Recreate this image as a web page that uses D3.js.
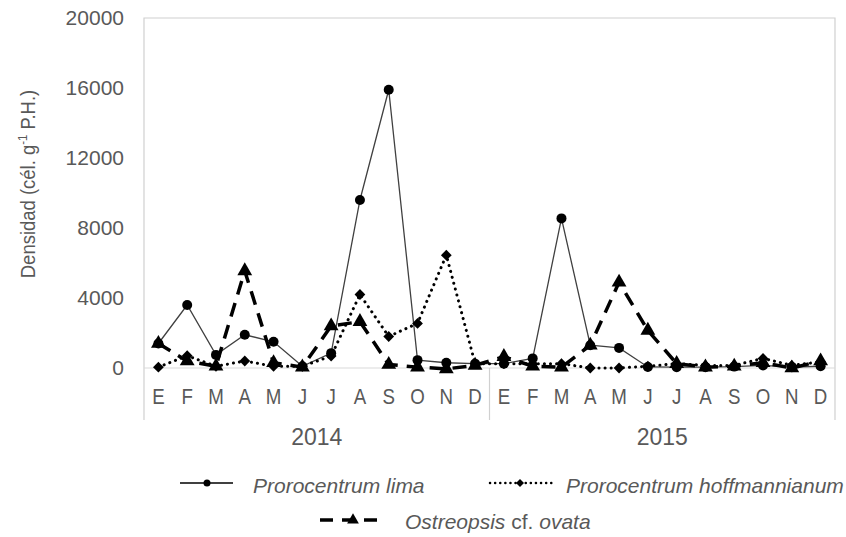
<!DOCTYPE html>
<html lang="es">
<head>
<meta charset="UTF-8">
<title>Densidad</title>
<script src="https://d3js.org/d3.v7.min.js"></script>
<style>
    body { margin: 0; background: #fff; }
    svg text { font-family: "Liberation Sans", Arial, sans-serif; fill: #595959; }
</style>
</head>
<body>
<svg id="svg"></svg>
<script>
    // data
    const years = ['2014', '2015'];
    const months = ['E','F','M','A','M','J','J','A','S','O','N','D'];
    const yTicks = [0, 4000, 8000, 12000, 16000, 20000];
    const lima = [1400, 3600, 750, 1900, 1500, 100, 850, 9600, 15900, 450, 300, 250,
                  250, 550, 8550, 1300, 1150, 60, 50, 50, 80, 150, 50, 100];
    const hoffmannianum = [50, 700, 100, 400, 100, 100, 680, 4200, 1800, 2550, 6450, 250,
                           250, 250, 250, 0, 0, 100, 250, 150, 150, 550, 150, 350];
    const ovata = [1400, 400, 100, 5550, 300, 50, 2400, 2650, 200, 50, -50, 150,
                   650, 100, 50, 1300, 4900, 2150, 250, 50, 100, 300, 0, 400];

    const width = 846, height = 537;
    const plotL = 144, plotR = 835, plotT = 18, plotB = 368;

    const svg = d3.select('#svg').attr('width', width).attr('height', height);

    const cats = [];
    years.forEach(y => months.forEach((m, i) => cats.push(y + '-' + i)));

    const x = d3.scaleBand().domain(cats).range([plotL, plotR]);
    const y = d3.scaleLinear().domain([0, 20000]).range([plotB, plotT]);
    const cx = (i) => x(cats[i]) + x.bandwidth() / 2;

    // frame
    svg.append('path')
        .attr('d', `M${plotL},${plotB + 52}V${plotT}H${plotR}V${plotB + 52}`)
        .attr('fill', 'none').attr('stroke', '#d0d0d0').attr('stroke-width', 1.2);
    svg.append('line')
        .attr('x1', plotL).attr('x2', plotR).attr('y1', y(0)).attr('y2', y(0))
        .attr('stroke', '#d9d9d9').attr('stroke-width', 1.2);
    svg.append('line')
        .attr('x1', x(cats[12])).attr('x2', x(cats[12])).attr('y1', y(0)).attr('y2', plotB + 52)
        .attr('stroke', '#d0d0d0').attr('stroke-width', 1.2);

    // y axis
    const yAxis = d3.axisLeft(y).tickValues(yTicks).tickSize(0).tickPadding(20)
        .tickFormat(d3.format('d'));
    svg.append('g').attr('transform', `translate(${plotL},0)`).call(yAxis)
        .call(g => g.select('.domain').remove())
        .selectAll('text').style('font-size', '21px').attr('fill', '#595959');

    // month labels
    const xAxis = d3.axisBottom(x).tickSize(0).tickPadding(20)
        .tickFormat(d => months[+d.split('-')[1]]);
    svg.append('g').attr('transform', `translate(0,${plotB})`).call(xAxis)
        .call(g => g.select('.domain').remove())
        .selectAll('text').style('font-size', '22px').attr('fill', '#595959')
        .attr('transform', 'scale(0.85,1)');

    // year labels
    years.forEach((yr, k) => {
        svg.append('text')
            .attr('x', (x(cats[k * 12]) + x(cats[k * 12 + 11]) + x.bandwidth()) / 2)
            .attr('y', 445)
            .attr('text-anchor', 'middle')
            .style('font-size', '23px')
            .text(yr);
    });

    // y title
    const yt = svg.append('text')
        .attr('transform', 'translate(35,184) rotate(-90) scale(0.88,1)')
        .attr('text-anchor', 'middle')
        .style('font-size', '21px');
    yt.append('tspan').text('Densidad (cél. g');
    yt.append('tspan').attr('dy', -8).style('font-size', '13px').text('-1');
    yt.append('tspan').attr('dy', 8).text(' P.H.)');

    const line = d3.line().x((d, i) => cx(i)).y(d => y(d));
    const tri = d3.symbol().type(d3.symbolTriangle).size(95);
    const dia = d3.symbol().type(d3.symbolSquare).size(58);

    // Prorocentrum lima
    svg.append('path').datum(lima).attr('d', line)
        .attr('fill', 'none').attr('stroke', '#404040').attr('stroke-width', 1.3);
    svg.selectAll('.lima').data(lima).enter().append('circle')
        .attr('cx', (d, i) => cx(i)).attr('cy', d => y(d)).attr('r', 5).attr('fill', '#000');

    // Prorocentrum hoffmannianum
    svg.append('path').datum(hoffmannianum).attr('d', line)
        .attr('fill', 'none').attr('stroke', '#000').attr('stroke-width', 3)
        .attr('stroke-dasharray', '0.1 6').attr('stroke-linecap', 'round');
    svg.selectAll('.hoff').data(hoffmannianum).enter().append('path')
        .attr('d', dia).attr('transform', (d, i) => `translate(${cx(i)},${y(d)}) rotate(45)`)
        .attr('fill', '#000');

    // Ostreopsis cf. ovata
    svg.append('path').datum(ovata).attr('d', line)
        .attr('fill', 'none').attr('stroke', '#000').attr('stroke-width', 3.5)
        .attr('stroke-dasharray', '14 9');
    svg.selectAll('.ovata').data(ovata).enter().append('path')
        .attr('d', tri).attr('transform', (d, i) => `translate(${cx(i)},${y(d)})`).attr('fill', '#000');

    // legend
    const leg = svg.append('g');
    leg.append('line').attr('x1', 180).attr('x2', 233).attr('y1', 483).attr('y2', 483)
        .attr('stroke', '#404040').attr('stroke-width', 2);
    leg.append('circle').attr('cx', 207).attr('cy', 483).attr('r', 3.5).attr('fill', '#000');
    leg.append('text').attr('x', 253).attr('y', 493).style('font-size', '21px')
        .style('font-style', 'italic').text('Prorocentrum lima');

    leg.append('line').attr('x1', 490).attr('x2', 556).attr('y1', 483).attr('y2', 483)
        .attr('stroke', '#000').attr('stroke-width', 2.5)
        .attr('stroke-dasharray', '0.1 5').attr('stroke-linecap', 'round');
    leg.append('path').attr('d', d3.symbol().type(d3.symbolSquare).size(32))
        .attr('transform', 'translate(520,483) rotate(45)').attr('fill', '#000');
    leg.append('text').attr('x', 566).attr('y', 493).style('font-size', '21px')
        .style('font-style', 'italic').text('Prorocentrum hoffmannianum');

    leg.append('line').attr('x1', 320).attr('x2', 386).attr('y1', 520).attr('y2', 520)
        .attr('stroke', '#000').attr('stroke-width', 3.5).attr('stroke-dasharray', '13 9');
    leg.append('path').attr('d', d3.symbol().type(d3.symbolTriangle).size(60))
        .attr('transform', 'translate(353,520)').attr('fill', '#000');
    const ot = leg.append('text').attr('x', 405).attr('y', 529).style('font-size', '21px');
    ot.append('tspan').style('font-style', 'italic').text('Ostreopsis');
    ot.append('tspan').text(' cf. ');
    ot.append('tspan').style('font-style', 'italic').text('ovata');
</script>
</body>
</html>
